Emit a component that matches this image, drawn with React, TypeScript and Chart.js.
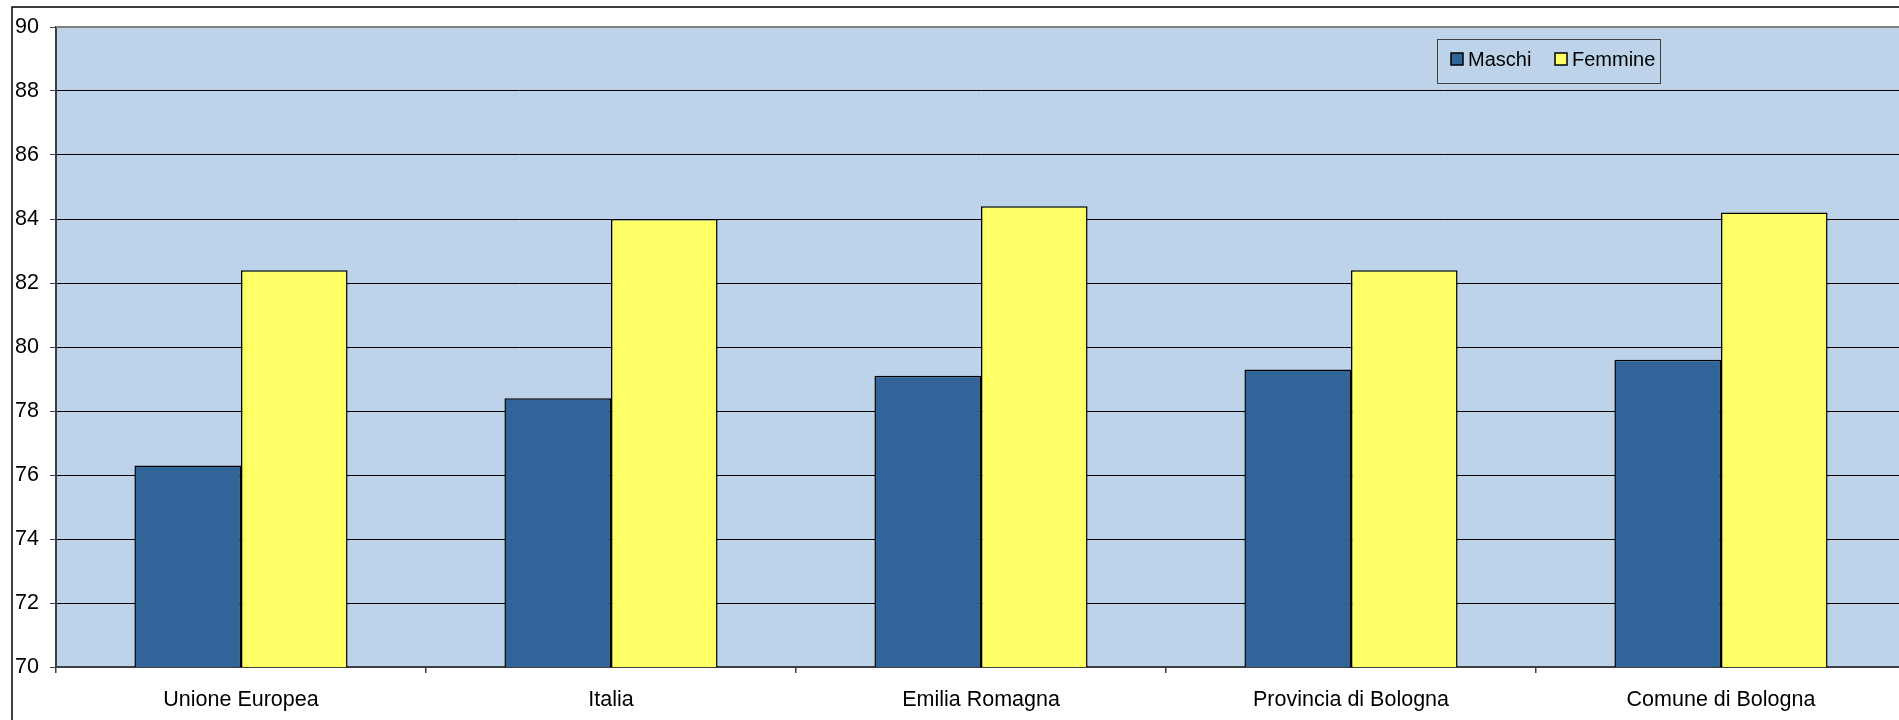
import React, { useEffect, useRef } from "react";
import { Chart, registerables } from "chart.js";

Chart.register(...registerables);

const categories = ["Unione Europea", "Italia", "Emilia Romagna", "Provincia di Bologna", "Comune di Bologna"];
const maschi = [76.3, 78.4, 79.1, 79.3, 79.6];
const femmine = [82.4, 84.0, 84.4, 82.4, 84.2];
const seriesLabels = ["Maschi", "Femmine"];
const yMin = 70;
const yMax = 90;
const yStep = 2;

const FONT = "'Liberation Sans', Arial, sans-serif";
const PLOT_BG = "#BDD3E9";
const MASCHI_COLOR = "#31659A";
const FEMMINE_COLOR = "#FFFF66";

const decorPlugin = {
  id: "decor",
  beforeDraw(chart: any) {
    const { ctx, chartArea } = chart;
    ctx.save();
    ctx.fillStyle = "#ffffff";
    ctx.fillRect(0, 0, chart.width, chart.height);
    ctx.fillStyle = PLOT_BG;
    ctx.fillRect(chartArea.left, chartArea.top, chartArea.right - chartArea.left, chartArea.bottom - chartArea.top);
    ctx.restore();
  },
  afterDraw(chart: any) {
    const { ctx, chartArea } = chart;
    ctx.save();
    // top border of plot area
    ctx.strokeStyle = "#808080";
    ctx.lineWidth = 2;
    ctx.beginPath();
    ctx.moveTo(chartArea.left, chartArea.top);
    ctx.lineTo(chart.width, chartArea.top);
    ctx.stroke();
    // outer frame
    ctx.strokeStyle = "#000000";
    ctx.lineWidth = 1.5;
    ctx.beginPath();
    ctx.moveTo(12, chart.height);
    ctx.lineTo(12, 7);
    ctx.lineTo(chart.width, 7);
    ctx.stroke();
    // legend
    const lx = 1437, ly = 39, lw = 223, lh = 44;
    ctx.fillStyle = PLOT_BG;
    ctx.fillRect(lx, ly, lw, lh);
    ctx.strokeStyle = "#404040";
    ctx.lineWidth = 1;
    ctx.strokeRect(lx + 0.5, ly + 0.5, lw, lh);
    const items = chart.data.datasets.map((d: any) => ({ label: d.label, color: d.backgroundColor }));
    const xs = [1451, 1555];
    ctx.font = `20px ${FONT}`;
    ctx.textBaseline = "middle";
    ctx.textAlign = "left";
    items.forEach((it: any, i: number) => {
      const sx = xs[i];
      ctx.fillStyle = it.color;
      ctx.fillRect(sx, 53, 12, 12);
      ctx.strokeStyle = "#000000";
      ctx.lineWidth = 1.5;
      ctx.strokeRect(sx, 53, 12, 12);
      ctx.fillStyle = "#000000";
      ctx.fillText(it.label, sx + 17, 60);
    });
    ctx.restore();
  },
};

export default function App() {
  const canvasRef = useRef<HTMLCanvasElement | null>(null);

  useEffect(() => {
    if (!canvasRef.current) return;
    const chart = new Chart(canvasRef.current, {
      type: "bar",
      data: {
        labels: categories,
        datasets: [
          {
            label: seriesLabels[0],
            data: maschi,
            backgroundColor: MASCHI_COLOR,
            borderColor: "#000000",
            borderWidth: 1.5,
            categoryPercentage: 0.576,
            barPercentage: 1,
          },
          {
            label: seriesLabels[1],
            data: femmine,
            backgroundColor: FEMMINE_COLOR,
            borderColor: "#000000",
            borderWidth: 1.5,
            categoryPercentage: 0.576,
            barPercentage: 1,
          },
        ],
      },
      options: {
        responsive: false,
        animation: false,
        devicePixelRatio: 1,
        layout: { padding: { top: 27, right: 4, left: 0, bottom: 0 } },
        plugins: {
          legend: { display: false },
          tooltip: { enabled: false },
          title: { display: false },
        },
        scales: {
          x: {
            offset: true,
            grid: {
              display: true,
              offset: true,
              drawOnChartArea: false,
              drawTicks: true,
              tickLength: 6,
              color: "#404040",
              lineWidth: 1.5,
            },
            border: { display: true, color: "#404040", width: 2 },
            ticks: {
              color: "#000000",
              font: { family: FONT, size: 21.5 },
              padding: 14,
              maxRotation: 0,
              autoSkip: false,
            },
            afterFit: (scale: any) => {
              scale.height = 53;
            },
          },
          y: {
            min: yMin,
            max: yMax,
            grid: {
              color: "#000000",
              lineWidth: 1,
              drawTicks: true,
              tickLength: 6,
              tickColor: "#404040",
            },
            border: { display: true, color: "#404040", width: 2 },
            ticks: {
              stepSize: yStep,
              color: "#000000",
              font: { family: FONT, size: 21.5 },
              padding: 11,
            },
            afterFit: (scale: any) => {
              scale.width = 56;
            },
          },
        },
      },
      plugins: [decorPlugin],
    });
    return () => chart.destroy();
  }, []);

  return (
    <div
      style={{
        position: "fixed",
        left: 0,
        top: 0,
        width: 1899,
        height: 720,
        overflow: "hidden",
        background: "#ffffff",
      }}
    >
      <canvas ref={canvasRef} width={1910} height={720} style={{ display: "block" }} />
    </div>
  );
}
